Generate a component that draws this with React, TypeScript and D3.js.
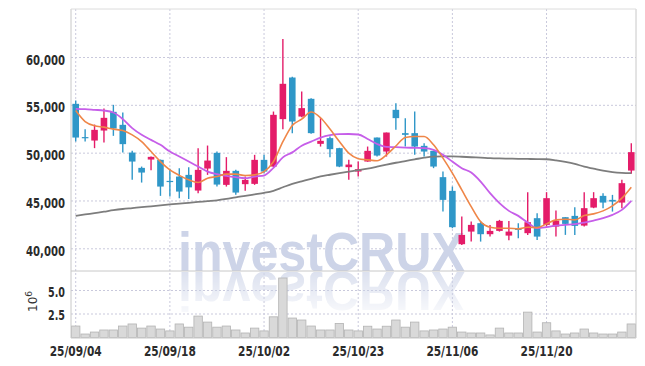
import React from 'react';
import * as d3 from 'd3';

const dates = [
  '25/09/04','25/09/05','25/09/08','25/09/09','25/09/10','25/09/11','25/09/12','25/09/15','25/09/16','25/09/17',
  '25/09/18','25/09/19','25/09/22','25/09/23','25/09/24','25/09/25','25/09/26','25/09/29','25/09/30','25/10/01',
  '25/10/02','25/10/10','25/10/13','25/10/14','25/10/15','25/10/16','25/10/17','25/10/20','25/10/21','25/10/22',
  '25/10/23','25/10/24','25/10/27','25/10/28','25/10/29','25/10/30','25/10/31','25/11/03','25/11/04','25/11/05',
  '25/11/06','25/11/07','25/11/10','25/11/11','25/11/12','25/11/13','25/11/14','25/11/17','25/11/18','25/11/19',
  '25/11/20','25/11/21','25/11/24','25/11/25','25/11/26','25/11/27','25/11/28','25/12/01','25/12/02','25/12/03'
];

const opens = [
  55157,51680,51318,52364,54320,52960,50063,48462,49331,49299,
  47100,47552,47730,46088,48389,50031,46684,48149,46757,46789,
  49299,48598,53556,57908,53828,55680,50973,51569,50523,48536,
  48075,49121,51632,50167,54529,52092,52092,50764,50241,47490,
  46057,40481,41799,42678,41527,41873,41381,42100,41632,43201,
  42500,42322,43306,43442,42427,44310,45534,45115,44833,48180
];
const highs = [
  55502,52510,52992,54665,55052,54247,50241,48598,49650,49330,
  48358,48431,48536,50523,50795,50167,49582,48253,47552,49822,
  49822,54351,61924,58000,56443,55750,53661,51736,50560,49299,
  49121,50690,51632,52155,55230,53661,54351,51046,50241,48075,
  46506,43368,42845,42845,42500,43023,42900,42678,45921,43724,
  45921,43996,43306,44351,45921,45921,45816,45638,47207,51046
];
const lows = [
  51213,51213,50523,51109,51810,50063,47207,46925,48222,45534,
  45460,45293,45200,45816,47730,46506,46506,45639,46057,46684,
  47908,48536,52510,52092,53766,52020,50690,49582,48536,47207,
  47552,49100,49645,49645,52437,50690,49822,49645,48431,43891,
  42155,40408,40753,40753,41276,41799,40900,41109,41454,40931,
  42322,41277,41454,41454,42322,44247,44247,43891,44247,47835
];
const closes = [
  51632,51600,52437,53692,52573,50941,49121,47971,49613,46506,
  47029,45983,46423,48253,49226,46716,48149,45880,47207,49299,
  48075,54006,57249,53305,54707,52092,51287,50418,48598,48808,
  48326,50241,49749,52155,53661,51914,50690,50167,48598,45115,
  42260,41454,42500,41527,41873,42918,41799,42000,42782,41276,
  45293,42950,42605,42395,44247,45293,44833,44937,46862,50105
];
// volume in millions of shares
const volumes = [
  1.22,0.37,0.58,0.8,0.8,1.22,1.44,1.0,1.22,0.9,
  0.7,1.44,1.1,2.28,1.64,1.1,1.22,0.8,0.48,1.0,
  0.7,2.2,6.33,2.07,1.86,1.22,0.8,0.8,1.5,0.8,
  0.7,1.2,0.9,1.2,1.86,1.1,1.64,0.7,0.8,0.9,
  1.1,0.58,0.48,0.48,0.27,1.0,0.48,0.48,2.7,0.58,
  1.57,0.7,0.37,0.48,0.9,0.48,0.37,0.37,0.58,1.44
];
const ma5 = [
  54456,53305,52856,52720,52510,52364,51914,51213,50167,49121,
  48253,47680,47207,46925,47385,47552,47803,47803,47657,47730,
  48075,49121,51200,52900,53550,54300,53700,52520,51220,50000,
  49420,49299,49210,49822,50750,51632,51736,51736,50868,49477,
  47908,46161,44414,42845,42260,42155,42150,42082,42260,42218,
  42605,43023,43096,43023,43473,43651,43965,44488,45293,46444
];
const ma10 = [
  54634,54602,54529,54456,54247,53556,52615,51914,51391,50868,
  50167,49650,49121,48598,48075,47803,47625,47490,47385,47552,
  47657,48460,49560,50080,50780,51200,51620,51880,51987,52000,
  51950,51480,50960,50660,50628,50586,50554,50523,50345,49822,
  49121,48431,47971,47029,45816,44770,43965,43442,42741,42155,
  42260,42427,42500,42573,42741,42950,43201,43546,44069,45011
];
const maLong = [
  43442,43588,43735,43881,44038,44163,44257,44352,44446,44540,
  44634,44728,44812,44896,44979,45063,45209,45387,45534,45690,
  45847,46067,46433,46789,47050,47312,47563,47741,47908,48065,
  48222,48389,48588,48797,48996,49174,49351,49529,49644,49665,
  49665,49623,49571,49529,49477,49446,49425,49404,49393,49383,
  49362,49247,49090,48881,48588,48379,48170,48023,47939,47908
];
const priceTicks = [40000, 45000, 50000, 55000, 60000];
const volTicks = [2.5, 5.0];
const xTickEvery = 10;

const RED = '#e41c69';
const BLUE = '#2f97c8';
const FONT = "'DejaVu Sans Condensed', 'DejaVu Sans', sans-serif";

export default function App() {
  const left = 71, right = 636, top = 9, split = 271, bottom = 338;
  const x = d3.scaleBand<string>().domain(dates).range([left, right]).padding(0);
  const bw = x.bandwidth();
  const cx = (i: number) => (x(dates[i]) as number) + bw / 2;
  const y = d3.scaleLinear().domain([40000, 60000]).range([248.8, 57.5]);
  const yv = d3.scaleLinear().domain([0, 5]).range([337.5, 290.5]);
  const fmt = d3.format(',');
  const lineGen = (arr: number[]) =>
    d3.line<number>().x((_, i) => cx(i)).y((d) => y(d)).curve(d3.curveMonotoneX)(arr) as string;
  const bodyW = bw * 0.7;
  const xTicks = dates.map((d, i) => i).filter((i) => i % xTickEvery === 0);

  return (
    <div style={{ position: 'fixed', left: 0, top: 0 }}>
      <svg width={645} height={366} style={{ display: 'block', background: '#fff' }}>
        <defs>
          <clipPath id="pclip"><rect x={left} y={top} width={right - left} height={split - top} /></clipPath>
          <clipPath id="vclip"><rect x={left} y={split} width={right - left} height={bottom - split} /></clipPath>
          <linearGradient id="fade" x1="0" y1="0" x2="0" y2="1">
            <stop offset="0" stopColor="#fff" stopOpacity={0.7} />
            <stop offset="1" stopColor="#fff" stopOpacity={0} />
          </linearGradient>
          <mask id="rmask" maskUnits="userSpaceOnUse" x={0} y={split} width={645} height={60}>
            <rect x={0} y={split + 1} width={645} height={52} fill="url(#fade)" />
          </mask>
        </defs>

        {/* grid */}
        {priceTicks.map((t) => (
          <line key={'hg' + t} x1={left} x2={right} y1={y(t)} y2={y(t)} stroke="#c9c9dc" strokeDasharray="2,2" />
        ))}
        {volTicks.map((t) => (
          <line key={'vg' + t} x1={left} x2={right} y1={yv(t)} y2={yv(t)} stroke="#c9c9dc" strokeDasharray="2,2" />
        ))}
        {xTicks.map((i) => (
          <line key={'xg' + i} x1={cx(i)} x2={cx(i)} y1={top} y2={bottom} stroke="#c9c9dc" strokeDasharray="2,2" />
        ))}

        {/* watermark */}
        <g clipPath="url(#pclip)">
          <text x={178} y={271} textLength={287} lengthAdjust="spacingAndGlyphs" fontFamily="'Liberation Sans', sans-serif" fontWeight="bold" fontSize={55} fill="#cdd4e8">
            investCRUX
          </text>
        </g>
        <g mask="url(#rmask)">
          <text x={178} y={-272} transform="scale(1,-1)" textLength={287} lengthAdjust="spacingAndGlyphs" fontFamily="'Liberation Sans', sans-serif" fontWeight="bold" fontSize={55} fill="#cdd4e8">
            investCRUX
          </text>
        </g>

        {/* volume bars */}
        <g clipPath="url(#vclip)">
          {volumes.map((v, i) => (
            <rect key={'v' + i} x={(x(dates[i]) as number) + 0.5} y={yv(v)} width={bw - 1} height={yv(0) - yv(v)} fill="#d9d9d9" stroke="#b3b3b3" strokeWidth={0.8} />
          ))}
        </g>

        {/* candles */}
        <g clipPath="url(#pclip)">
          {dates.map((d, i) => {
            const up = closes[i] >= opens[i];
            const c = up ? RED : BLUE;
            const yt = y(Math.max(opens[i], closes[i]));
            const yb = y(Math.min(opens[i], closes[i]));
            return (
              <g key={'c' + i}>
                <line x1={cx(i)} x2={cx(i)} y1={y(highs[i])} y2={y(lows[i])} stroke={c} strokeWidth={1.4} />
                <rect x={cx(i) - bodyW / 2} y={yt} width={bodyW} height={Math.max(1.2, yb - yt)} fill={c} />
              </g>
            );
          })}
          <path d={lineGen(maLong)} fill="none" stroke="#7d7d7d" strokeWidth={1.8} />
          <path d={lineGen(ma10)} fill="none" stroke="#c65ee9" strokeWidth={1.8} />
          <path d={lineGen(ma5)} fill="none" stroke="#ef8648" strokeWidth={1.6} />
        </g>

        {/* frame */}
        <line x1={left} x2={left} y1={top} y2={bottom} stroke="#c8c8c8" />
        <line x1={right} x2={right} y1={top} y2={bottom} stroke="#c8c8c8" />
        <line x1={left} x2={right} y1={top} y2={top} stroke="#dcdcdc" />
        <line x1={left} x2={right} y1={split} y2={split} stroke="#c8c8c8" />
        <line x1={left} x2={right} y1={bottom} y2={bottom} stroke="#c8c8c8" />

        {/* axis labels */}
        {priceTicks.map((t) => (
          <text key={'pl' + t} x={65} y={y(t) + 2} dy="0.35em" textAnchor="end" textLength={39} lengthAdjust="spacingAndGlyphs" fontFamily={FONT} fontWeight="bold" fontSize={14.5} fill="#2b2b2b">
            {fmt(t)}
          </text>
        ))}
        {volTicks.map((t) => (
          <text key={'vl' + t} x={65} y={yv(t) + 1} dy="0.35em" textAnchor="end" textLength={17} lengthAdjust="spacingAndGlyphs" fontFamily={FONT} fontWeight="bold" fontSize={14.5} fill="#2b2b2b">
            {t.toFixed(1)}
          </text>
        ))}
        <text transform="translate(37,312) rotate(-90)" fontFamily="'DejaVu Sans', sans-serif" fontSize={12} fill="#333">
          10<tspan dy={-5} fontSize={9}>6</tspan>
        </text>
        {xTicks.map((i) => (
          <text key={'xl' + i} x={cx(i)} y={355.5} textAnchor="middle" textLength={52} lengthAdjust="spacingAndGlyphs" fontFamily={FONT} fontWeight="bold" fontSize={14.5} fill="#2b2b2b">
            {dates[i]}
          </text>
        ))}
      </svg>
    </div>
  );
}
